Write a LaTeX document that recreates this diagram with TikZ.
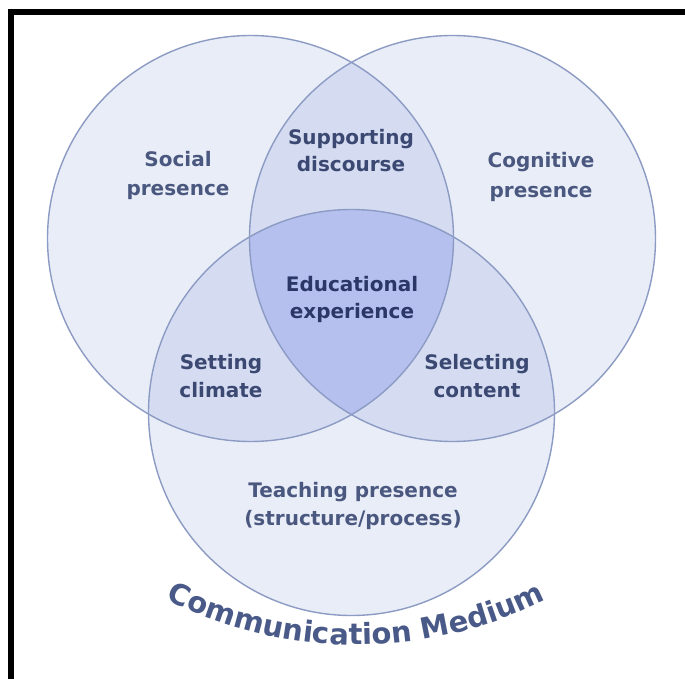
\documentclass[tikz,border=0pt]{standalone}
\usepackage{fontspec}
\setmainfont{DejaVu Sans}
\usetikzlibrary{decorations.text,calc}
\definecolor{single}{HTML}{E9EDF7}
\definecolor{pair}{HTML}{D5DCF2}
\definecolor{triple}{HTML}{B5C0EE}
\definecolor{ringc}{HTML}{8C9BC3}
\definecolor{txtA}{HTML}{4A5880}
\definecolor{txtB}{HTML}{3A4872}
\definecolor{txtC}{HTML}{2B3766}
\definecolor{cmcol}{HTML}{4A5A88}
\newcommand{\cmfont}{\fontsize{29}{29}\selectfont\bfseries\color{cmcol}}
\begin{document}
\begin{tikzpicture}[x=1pt,y=-1pt,
  ring/.style={draw=ringc,line width=1.4pt},
  lbl/.style={anchor=base,inner sep=0pt,font=\fontsize{20}{27}\selectfont\bfseries},
  lblA/.style={lbl,text=txtA},
  lblB/.style={lbl,text=txtB},
  lblC/.style={lbl,text=txtC}]
\useasboundingbox (0,0) rectangle (685,679);
\fill[white] (0,0) rectangle (685,679);
\draw[line width=6pt,miter limit=10] (11,679) -- (11,12) -- (685,12);
\coordinate (cS) at (250.5,238.5);
\coordinate (cC) at (452.5,238.5);
\coordinate (cT) at (351.5,412.5);
\coordinate (arcc) at (356,223.4);
% single fills
\fill[single] (cS) circle (203);
\fill[single] (cC) circle (203);
\fill[single] (cT) circle (203);
% pair overlaps
\begin{scope}
  \clip (cS) circle (203);
  \fill[pair] (cC) circle (203);
  \fill[pair] (cT) circle (203);
\end{scope}
\begin{scope}
  \clip (cC) circle (203);
  \fill[pair] (cT) circle (203);
\end{scope}
% triple overlap
\begin{scope}
  \clip (cS) circle (203);
  \clip (cC) circle (203);
  \fill[triple] (cT) circle (203);
\end{scope}
% outlines
\draw[ring] (cS) circle (203);
\draw[ring] (cC) circle (203);
\draw[ring] (cT) circle (203);
% labels
\node[lblA] (soc1) at (178,167) {Social};
\node[lblA] (soc2) at (178,196) {presence};
\node[lblA] (cog1) at (541,168) {Cognitive};
\node[lblA] (cog2) at (541,197) {presence};
\node[lblB] (sup1) at (351,145) {Supporting};
\node[lblB] (sup2) at (351,172) {discourse};
\node[lblC] (edu1) at (352,291) {Educational};
\node[lblC] (edu2) at (352,318) {experience};
\node[lblB] (set1) at (221,369) {Setting};
\node[lblB] (set2) at (221,397) {climate};
\node[lblB] (sel1) at (477,369) {Selecting};
\node[lblB] (sel2) at (477,397) {content};
\node[lblA] (tea1) at (353,497) {Teaching presence};
\node[lblA] (tea2) at (353,525) {(structure/process)};
% curved title
\path[decorate,decoration={text along path,text align=center,
  text={|\cmfont|Communication Medium}}]
  ($(arcc)+(118:421.6)$) arc[start angle=118,end angle=62,radius=421.6];
\end{tikzpicture}
\end{document}
